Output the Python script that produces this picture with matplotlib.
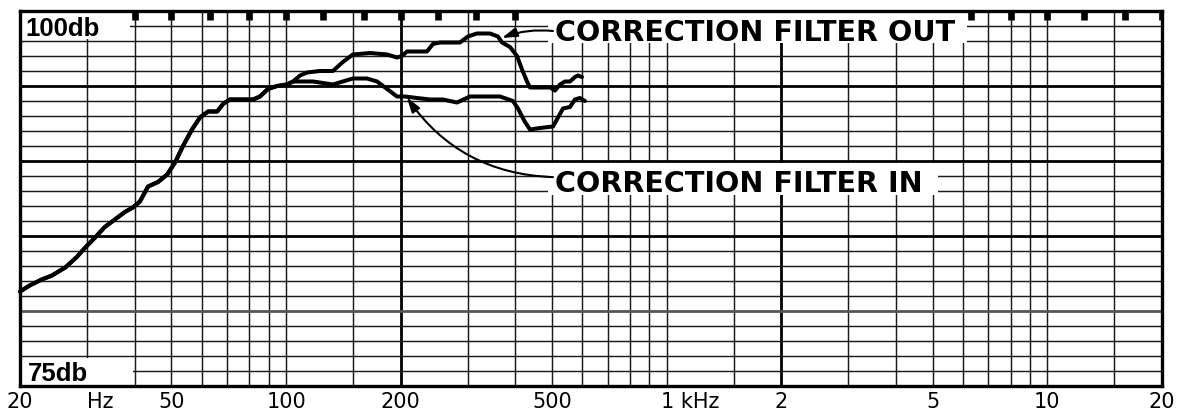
import numpy as np
import matplotlib
matplotlib.use("Agg")
import matplotlib.pyplot as plt
from matplotlib.patches import Rectangle
from matplotlib.transforms import offset_copy

# ---- measured response (Hz, dB SPL) ----
# shared low-frequency rise, identical for both settings
freq_common = [20, 21.2, 22.8, 24.2, 26.3, 28.2, 29.6, 31.5, 33.4, 35.5, 37.7,
               39.6, 41.3, 43.4, 46.1, 48.7, 51.1, 53.6, 56.6, 59.4, 62.4,
               65.9, 68.3, 71.2, 75.7, 81.9, 85.4, 89.6, 94.7, 100.5, 104.3]
db_common = [81.3, 81.7, 82.1, 82.35, 82.9, 83.6, 84.2, 84.9, 85.6, 86.1, 86.6,
             86.9, 87.3, 88.3, 88.6, 89.1, 89.9, 91.0, 92.1, 92.9, 93.3,
             93.3, 93.8, 94.1, 94.1, 94.1, 94.3, 94.8, 95.0, 95.1, 95.3]

# correction filter out
freq_out = [108.8, 113.5, 122.7, 132.7, 141.0, 149.8, 166.2, 184.2, 195.6,
            201.6, 207.8, 220.7, 234.5, 243.1, 253.7, 286.3, 300.4, 317.2,
            343.2, 360.3, 369.2, 387.5, 404.3, 416.7, 429.4, 437.3, 464.6,
            493.6, 508.7, 524.3, 540.4, 556.9, 574.0, 584.5, 598.8]
db_out = [95.7, 95.9, 96.0, 96.0, 96.6, 97.1, 97.2, 97.1, 96.9,
          97.0, 97.3, 97.3, 97.3, 97.8, 97.9, 97.9, 98.3, 98.5,
          98.5, 98.3, 97.9, 97.6, 97.0, 96.1, 95.3, 94.9, 94.9,
          94.9, 94.7, 95.1, 95.3, 95.3, 95.6, 95.7, 95.6]

# correction filter in
freq_in = [110.8, 117.7, 125.0, 132.7, 141.0, 149.8, 163.2, 173.4, 184.2,
           195.6, 205.3, 220.7, 238.9, 258.4, 281.2, 304.1, 329.0, 364.7,
           394.5, 406.6, 424.2, 437.3, 464.6, 502.6, 518.0, 533.9, 556.9,
           574.0, 591.6, 609.7]
db_in = [95.3, 95.3, 95.2, 95.1, 95.3, 95.5, 95.5, 95.3, 94.8,
         94.3, 94.3, 94.2, 94.1, 94.1, 93.9, 94.3, 94.3, 94.3,
         94.0, 93.5, 92.6, 92.1, 92.2, 92.3, 92.9, 93.5, 93.6,
         94.1, 94.2, 94.0]

# chart-paper frequency axis
tick_freqs = [20, 50, 100, 200, 500, 1000, 2000, 5000, 10000, 20000]
tick_labels = ["20", "50", "100", "200", "500", "1 kHz", "2", "5", "10", "20"]
third_octave = [20, 25, 31.5, 40, 50, 63, 80, 100, 125, 160, 200, 250, 315,
                400, 500, 630, 800, 1000, 1250, 1600, 2000, 2500, 3150, 4000,
                5000, 6300, 8000, 10000, 12500, 16000, 20000]
grid_steps = [1, 1.5, 2, 2.5, 3, 3.5, 4, 4.5, 5, 7.5]
decade_bases = [20, 200, 2000]
db_min, db_max = 75, 100

fig = plt.figure(figsize=(11.83, 4.10), dpi=100)
fig.patch.set_facecolor("white")
ax = fig.add_axes([20 / 1183, 23 / 410, 1142 / 1183, 375 / 410])
ax.set_xscale("log")
ax.set_xlim(20, 20000)
ax.set_ylim(db_min, db_max)
ax.tick_params(which="both", length=0, labelbottom=False, labelleft=False)
ax.xaxis.set_minor_locator(matplotlib.ticker.NullLocator())
ax.set_xticks([])
ax.set_yticks([])
for sp in ax.spines.values():
    sp.set_linewidth(2.4)
    sp.set_color("black")

# chart paper grid
for base in decade_bases:
    for m in grid_steps:
        ax.axvline(base * m, color="black" if m == 1 else "#1a1a1a",
                   lw=2.0 if m == 1 else 1.05, zorder=1)
for d in range(db_min, db_max + 1):
    major = d % 5 == 0
    col = "#555555" if d == 80 else ("black" if major else "#1a1a1a")
    ax.axhline(d, color=col, lw=2.0 if major else 1.05, zorder=1)

# third-octave index marks along the top edge
ax.vlines(third_octave, db_max - 0.62, db_max, color="black", lw=4.8, zorder=2)

# white label fields on the paper
for (x0, y0, w, h) in [(0.0, 0.9253, 0.0963, 0.0747),
                       (0.0, 0.0, 0.0990, 0.0747),
                       (0.4623, 0.9147, 0.3669, 0.0853),
                       (0.4623, 0.5093, 0.3416, 0.0854)]:
    ax.add_patch(Rectangle((x0, y0), w, h, transform=ax.transAxes,
                           facecolor="white", edgecolor="none", zorder=2.2))

# response traces
f_out = np.concatenate([freq_common, freq_out])
d_out = np.concatenate([db_common, db_out])
f_in = np.concatenate([freq_common, freq_in])
d_in = np.concatenate([db_common, db_in])
trace_kw = dict(color="black", lw=2.9, solid_joinstyle="round",
                solid_capstyle="round", zorder=3, clip_on=False)
ax.plot(f_out, d_out, **trace_kw)
ax.plot(f_in, d_in, **trace_kw)

# level labels
lvl_font = dict(family="Liberation Sans", weight="bold", size=18.5)
ax.text(0.0044, 0.936, "100db", transform=ax.transAxes, ha="left",
        va="baseline", zorder=4, **lvl_font)
ax.text(0.007, 0.016, "75db", transform=ax.transAxes, ha="left",
        va="baseline", zorder=4, **lvl_font)

# callouts
call_font = dict(family="DejaVu Sans", weight="bold", size=20.6)
ax.text(0.4685, 0.9235, "CORRECTION FILTER OUT", transform=ax.transAxes,
        ha="left", va="baseline", zorder=4, **call_font)
ax.text(0.4685, 0.5208, "CORRECTION FILTER IN", transform=ax.transAxes,
        ha="left", va="baseline", zorder=4, **call_font)

arrow_kw = dict(arrowstyle="-|>,head_length=0.9,head_width=0.28",
                color="black", lw=1.5, shrinkA=0, shrinkB=0,
                mutation_scale=10)
ax.annotate("", xy=(369, 98.2), xycoords="data",
            xytext=(0.4667, 0.9467), textcoords="axes fraction",
            arrowprops=dict(connectionstyle="arc3,rad=0.12", **arrow_kw),
            zorder=4)
ax.annotate("", xy=(207.5, 94.25), xycoords="data",
            xytext=(0.4667, 0.557), textcoords="axes fraction",
            arrowprops=dict(connectionstyle="arc3,rad=-0.25", **arrow_kw),
            zorder=4)

# frequency labels under the paper
xlab_tr = ax.get_xaxis_transform()
lab_font = dict(family="DejaVu Sans", size=15)
for f, lab in zip(tick_freqs, tick_labels):
    if lab == "1 kHz":
        tr = offset_copy(xlab_tr, fig=fig, x=-6, y=0, units="dots")
        ax.text(f, -0.0547, lab, transform=tr, ha="left", va="baseline",
                clip_on=False, **lab_font)
    else:
        ax.text(f, -0.0547, lab, transform=xlab_tr, ha="center",
                va="baseline", clip_on=False, **lab_font)
ax.text(32.4, -0.0547, "Hz", transform=xlab_tr, ha="center", va="baseline",
        clip_on=False, **lab_font)

fig.savefig("out.png", dpi=100, facecolor="white")
